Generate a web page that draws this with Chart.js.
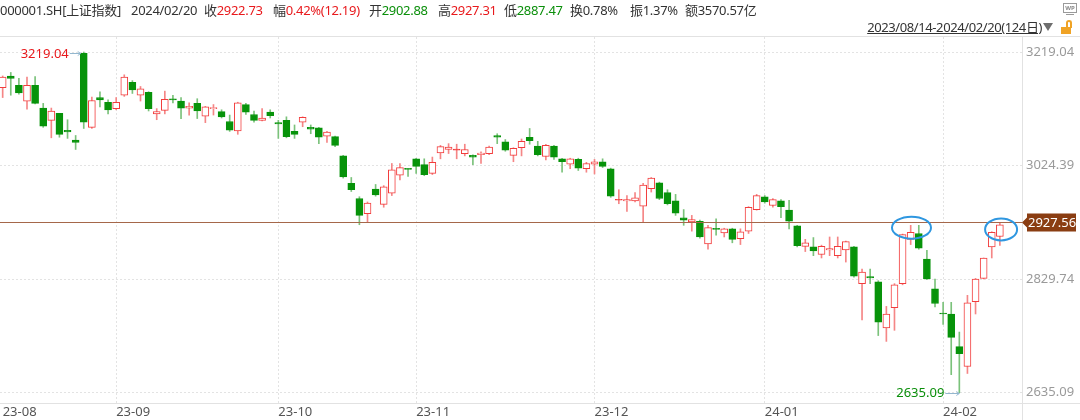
<!DOCTYPE html>
<html>
<head>
<meta charset="utf-8">
<script src="https://cdn.jsdelivr.net/npm/chart.js@4.4.1/dist/chart.umd.min.js"></script>
<style>
    body { margin: 0; background: #fff; font-family: "Noto Sans", "Noto Sans CJK SC", sans-serif; }
    #wrap { position: relative; width: 1080px; height: 420px; overflow: hidden; }
    canvas { position: absolute; left: 0; top: 0; }
    .hd { position: absolute; top: 1px; font-size: 13px; line-height: 18px; color: #333; white-space: nowrap; letter-spacing: -0.3px; }
    .up { color: #e8191c; }
    .dn { color: #0b8f0b; }
    #range { position: absolute; right: 38px; top: 18px; font-size: 13px; line-height: 18px; color: #333; text-decoration: underline; white-space: nowrap; letter-spacing: -0.4px; }
    #tri { position: absolute; left: 1043px; top: 23px; width: 0; height: 0; border-left: 5px solid transparent; border-right: 5px solid transparent; border-top: 8px solid #6e6e6e; }
    #lock-body { position: absolute; left: 1061px; top: 27px; width: 10px; height: 7px; background: #f0a325; }
    #lock-shackle { position: absolute; left: 1066px; top: 20px; width: 6px; height: 8px; border: 2px solid #f0a325; border-bottom: none; border-radius: 4px 4px 0 0; box-sizing: border-box; }
    #wp { position: absolute; left: 1063px; top: 3px; width: 14px; height: 10px; border: 1px solid #9a9a9a; box-sizing: border-box; font-size: 6px; line-height: 8px; text-align: center; color: #888; font-weight: bold; }
    #wp-stand { position: absolute; left: 1066px; top: 14px; width: 8px; height: 1px; background: #9a9a9a; }
</style>
</head>
<body>
<div id="wrap">
    <canvas id="kline" width="1080" height="420"></canvas>
    <div class="hd" style="left:0px">000001.SH[上证指数]</div>
    <div class="hd" style="left:131px">2024/02/20</div>
    <div class="hd" style="left:204px">收<span class="up">2922.73</span></div>
    <div class="hd" style="left:273px">幅<span class="up">0.42%(12.19)</span></div>
    <div class="hd" style="left:369px">开<span class="dn">2902.88</span></div>
    <div class="hd" style="left:438px">高<span class="up">2927.31</span></div>
    <div class="hd" style="left:504px">低<span class="dn">2887.47</span></div>
    <div class="hd" style="left:570px">换0.78%</div>
    <div class="hd" style="left:630px">振1.37%</div>
    <div class="hd" style="left:685px">额3570.57亿</div>
    <div id="range">2023/08/14-2024/02/20(124日)</div>
    <div id="tri"></div>
    <div id="lock-shackle"></div>
    <div id="lock-body"></div>
    <div id="wp">WP</div>
    <div id="wp-stand"></div>
</div>
<script>
// Daily candles, 2023/08/14 - 2024/02/20 (124 sessions)
const openPrices = [
    3158, 3178, 3162, 3135, 3162, 3123, 3102, 3114, 3085, 3068,
    3217, 3090, 3141, 3133, 3122, 3145, 3167, 3145, 3150, 3113,
    3119, 3139, 3135, 3123, 3131, 3109, 3122, 3117, 3100, 3084,
    3129, 3112, 3102, 3116, 3098, 3102, 3083, 3099, 3090, 3089,
    3075, 3074, 3041, 2994, 2968, 2942, 2984, 2958, 2977, 3008,
    3019, 3036, 3026, 3011, 3046, 3052, 3051, 3045, 3042, 3043,
    3045, 3076, 3065, 3042, 3055, 3073, 3058, 3040, 3058, 3036,
    3027, 3035, 3019, 3027, 3031, 3019, 2965, 2964, 2964, 2955,
    2985, 2995, 2978, 2964, 2935, 2928, 2929, 2890, 2917, 2909,
    2916, 2899, 2912, 2949, 2971, 2956, 2964, 2948, 2921, 2886,
    2885, 2872, 2880, 2870, 2880, 2885, 2822, 2834, 2825, 2746,
    2781, 2822, 2898, 2908, 2864, 2813, 2771, 2770, 2714, 2680,
    2791, 2831, 2885, 2902.88
];
const highPrices = [
    3178, 3184, 3174, 3176, 3177, 3131, 3123, 3114, 3103, 3076,
    3219.04, 3142, 3151, 3137, 3141, 3180, 3170, 3160, 3151, 3122,
    3152, 3145, 3141, 3132, 3139, 3126, 3129, 3120, 3111, 3133,
    3131, 3118, 3122, 3120, 3102, 3108, 3094, 3108, 3094, 3090,
    3083, 3075, 3042, 3004, 2971, 2962, 2992, 2990, 3028, 3028,
    3019, 3037, 3036, 3039, 3059, 3062, 3061, 3061, 3043, 3048,
    3058, 3079, 3069, 3055, 3070, 3088, 3066, 3061, 3059, 3037,
    3037, 3037, 3030, 3035, 3036, 3020, 2983, 2973, 2978, 2994,
    3004, 2996, 2983, 2975, 2949, 2939, 2931, 2922, 2933, 2917,
    2917, 2916, 2954, 2975, 2973, 2968, 2966, 2965, 2922, 2898,
    2901, 2888, 2902, 2902, 2895, 2886, 2847, 2847, 2827, 2783,
    2822, 2907, 2922, 2922, 2879, 2830, 2790, 2790, 2739, 2802,
    2831, 2866, 2911, 2927.31
];
const lowPrices = [
    3141, 3145, 3147, 3121, 3130, 3090, 3072, 3073, 3071, 3052,
    3088, 3088, 3125, 3113, 3120, 3143, 3148, 3135, 3118, 3103,
    3113, 3132, 3105, 3111, 3105, 3098, 3111, 3106, 3083, 3078,
    3112, 3099, 3101, 3106, 3071, 3072, 3071, 3091, 3079, 3062,
    3064, 3057, 3003, 2980, 2923, 2928, 2972, 2953, 2973, 3000,
    3006, 3011, 3007, 3009, 3036, 3045, 3036, 3041, 3026, 3028,
    3043, 3062, 3049, 3031, 3041, 3061, 3041, 3034, 3035, 3013,
    3019, 3016, 3013, 3010, 3021, 2970, 2959, 2946, 2962, 2928,
    2979, 2966, 2957, 2939, 2922, 2912, 2900, 2881, 2905, 2902,
    2892, 2889, 2908, 2948, 2960, 2953, 2935, 2916, 2885, 2877,
    2870, 2866, 2870, 2866, 2859, 2833, 2760, 2822, 2733, 2723,
    2742, 2820, 2889, 2881, 2829, 2782, 2752, 2666, 2635.09, 2668,
    2770, 2830, 2866, 2887.47
];
const closePrices = [
    3176, 3174, 3149, 3162, 3131, 3092, 3118, 3078, 3082, 3064,
    3099, 3136, 3137, 3120, 3133, 3176, 3154, 3156, 3122, 3117,
    3138, 3137, 3123, 3126, 3118, 3125, 3124, 3108, 3085, 3132,
    3116, 3102, 3106, 3110, 3096, 3074, 3078, 3107, 3087, 3073,
    3082, 3059, 3005, 2983, 2939, 2960, 2974, 2988, 3017, 3021,
    3018, 3023, 3009, 3030, 3057, 3056, 3052, 3052, 3039, 3046,
    3056, 3073, 3051, 3054, 3066, 3067, 3043, 3059, 3039, 3031,
    3036, 3020, 3028, 3031, 3023, 2972, 2966, 2966, 2969, 2991,
    3003, 2968, 2959, 2943, 2931, 2932, 2902, 2918, 2915, 2916,
    2898, 2911, 2953, 2973, 2962, 2966, 2954, 2929, 2887, 2892,
    2878, 2886, 2882, 2886, 2894, 2835, 2842, 2832, 2756, 2770,
    2820, 2906, 2910, 2883, 2830, 2788, 2770, 2730, 2702, 2789,
    2830, 2866, 2910, 2922.73
];

// x axis: month labels sit at the first session of each month
const monthLabels = ['23-08', '23-09', '23-10', '23-11', '23-12', '24-01', '24-02'];
const monthStarts = [0, 14, 34, 51, 73, 94, 116];

// y axis
const priceTicks = [2635.09, 2829.74, 3024.39, 3219.04];
const lastPrice = 2927.56;

const UP = '#f23c3c', UP_WICK = '#f58686';
const DOWN = '#07930a', DOWN_WICK = '#7bc27b';

const sessions = openPrices.map((_, i) => i);
const isUp = sessions.map(i => closePrices[i] >= openPrices[i]);
const highIndex = highPrices.indexOf(Math.max(...highPrices));
const lowIndex = lowPrices.indexOf(Math.min(...lowPrices));

/**
 * Draw frame lines, last price line + tag, circled candles, high/low marks
 */
const overlayPlugin = {
    id: 'overlay',
    afterDraw(chart) {
        const { ctx, chartArea, scales: { x, y } } = chart;
        ctx.save();

        // frame
        ctx.strokeStyle = '#e2e2e2';
        ctx.lineWidth = 1;
        ctx.beginPath();
        ctx.moveTo(0, chartArea.top - 0.5);
        ctx.lineTo(chart.width, chartArea.top - 0.5);
        ctx.moveTo(0, chartArea.bottom + 0.5);
        ctx.lineTo(chart.width, chartArea.bottom + 0.5);
        ctx.moveTo(chartArea.right + 0.5, chartArea.top);
        ctx.lineTo(chartArea.right + 0.5, chart.height);
        ctx.stroke();

        // last price line
        const py = Math.round(y.getPixelForValue(lastPrice)) + 0.5;
        ctx.strokeStyle = '#a5674a';
        ctx.beginPath();
        ctx.moveTo(chartArea.left, py);
        ctx.lineTo(chartArea.right, py);
        ctx.stroke();

        // price tag
        ctx.fillStyle = '#8a3d12';
        ctx.beginPath();
        ctx.moveTo(chartArea.right, py);
        ctx.lineTo(chartArea.right + 5, py - 5);
        ctx.lineTo(chartArea.right + 5, py - 9);
        ctx.lineTo(chartArea.right + 54, py - 9);
        ctx.lineTo(chartArea.right + 54, py + 9);
        ctx.lineTo(chartArea.right + 5, py + 9);
        ctx.lineTo(chartArea.right + 5, py + 5);
        ctx.closePath();
        ctx.fill();
        ctx.fillStyle = '#fff';
        ctx.font = '13px "Noto Sans", sans-serif';
        ctx.textAlign = 'left';
        ctx.textBaseline = 'middle';
        ctx.fillText(lastPrice.toFixed(2), chartArea.right + 6, py + 0.5);

        // circled candles
        ctx.strokeStyle = '#2f97e0';
        ctx.lineWidth = 2;
        [[112.1, 2918, 19.5, 11], [123.15, 2915, 16, 11]].forEach(([idx, price, rx, ry]) => {
            ctx.beginPath();
            ctx.ellipse(x.getPixelForValue(idx), y.getPixelForValue(price), rx, ry, 0, 0, Math.PI * 2);
            ctx.stroke();
        });

        // high / low marks
        ctx.lineWidth = 1;
        ctx.strokeStyle = '#93b7cf';
        ctx.font = '13px "Noto Sans", sans-serif';
        ctx.textAlign = 'right';

        const hx = x.getPixelForValue(highIndex) - 3;
        const hy = Math.round(y.getPixelForValue(highPrices[highIndex])) + 1.5;
        ctx.beginPath();
        ctx.moveTo(hx - 11, hy);
        ctx.lineTo(hx, hy);
        ctx.moveTo(hx - 3, hy - 2);
        ctx.lineTo(hx, hy);
        ctx.lineTo(hx - 3, hy + 2);
        ctx.stroke();
        ctx.fillStyle = '#e8191c';
        ctx.fillText(highPrices[highIndex].toFixed(2), hx - 12, hy + 1);

        const lx = x.getPixelForValue(lowIndex);
        const ly = Math.round(y.getPixelForValue(lowPrices[lowIndex])) + 0.5;
        ctx.beginPath();
        ctx.moveTo(lx - 14, ly);
        ctx.lineTo(lx, ly);
        ctx.moveTo(lx - 3, ly - 2);
        ctx.lineTo(lx, ly);
        ctx.lineTo(lx - 3, ly + 2);
        ctx.stroke();
        ctx.fillStyle = '#0b8f0b';
        ctx.fillText(lowPrices[lowIndex].toFixed(2), lx - 15, ly);

        ctx.restore();
    }
};

Chart.defaults.font.family = '"Noto Sans", sans-serif';

new Chart(document.getElementById('kline'), {
    type: 'bar',
    data: {
        datasets: [
            {
                label: 'body',
                data: sessions.map(i => ({ x: i, y: [openPrices[i], closePrices[i]] })),
                backgroundColor: sessions.map(i => {
                    if (Math.abs(closePrices[i] - openPrices[i]) < 2) return isUp[i] ? UP : DOWN;
                    return isUp[i] ? '#ffffff' : DOWN;
                }),
                borderColor: sessions.map(i => isUp[i] ? UP : DOWN),
                borderWidth: 1,
                borderSkipped: false,
                barThickness: 7,
                minBarLength: 1,
                grouped: false,
                order: 0
            },
            {
                label: 'wick',
                data: sessions.map(i => ({ x: i, y: [lowPrices[i], highPrices[i]] })),
                backgroundColor: sessions.map(i => isUp[i] ? UP_WICK : DOWN_WICK),
                borderWidth: 0,
                barThickness: 1,
                grouped: false,
                order: 1
            }
        ]
    },
    options: {
        responsive: false,
        animation: false,
        devicePixelRatio: 1,
        layout: { padding: { top: 37, left: 0, right: 0, bottom: 0 } },
        plugins: {
            legend: { display: false },
            tooltip: { enabled: false }
        },
        scales: {
            x: {
                type: 'linear',
                min: -0.33,
                max: 125.73,
                offset: false,
                afterBuildTicks: scale => { scale.ticks = monthStarts.map(v => ({ value: v })); },
                afterFit: scale => { scale.height = 17; },
                ticks: {
                    autoSkip: false,
                    maxRotation: 0,
                    align: 'start',
                    padding: 1,
                    color: '#555',
                    font: { size: 13 },
                    callback: value => monthLabels[monthStarts.indexOf(value)]
                },
                grid: {
                    offset: false,
                    drawTicks: false,
                    color: ctx => ctx.tick && ctx.tick.value === 0 ? 'rgba(0,0,0,0)' : '#e3e3e3'
                },
                border: { display: false, dash: [2, 2] }
            },
            y: {
                type: 'linear',
                position: 'right',
                min: 2617.4,
                max: 3244.8,
                afterBuildTicks: scale => { scale.ticks = priceTicks.map(v => ({ value: v })); },
                afterFit: scale => { scale.width = 58; },
                ticks: {
                    padding: 4,
                    color: '#9a9a9a',
                    font: { size: 13 },
                    callback: value => value.toFixed(2)
                },
                grid: { drawTicks: false, color: '#e3e3e3' },
                border: { display: false, dash: [2, 2] }
            }
        }
    },
    plugins: [overlayPlugin]
});
</script>
</body>
</html>
